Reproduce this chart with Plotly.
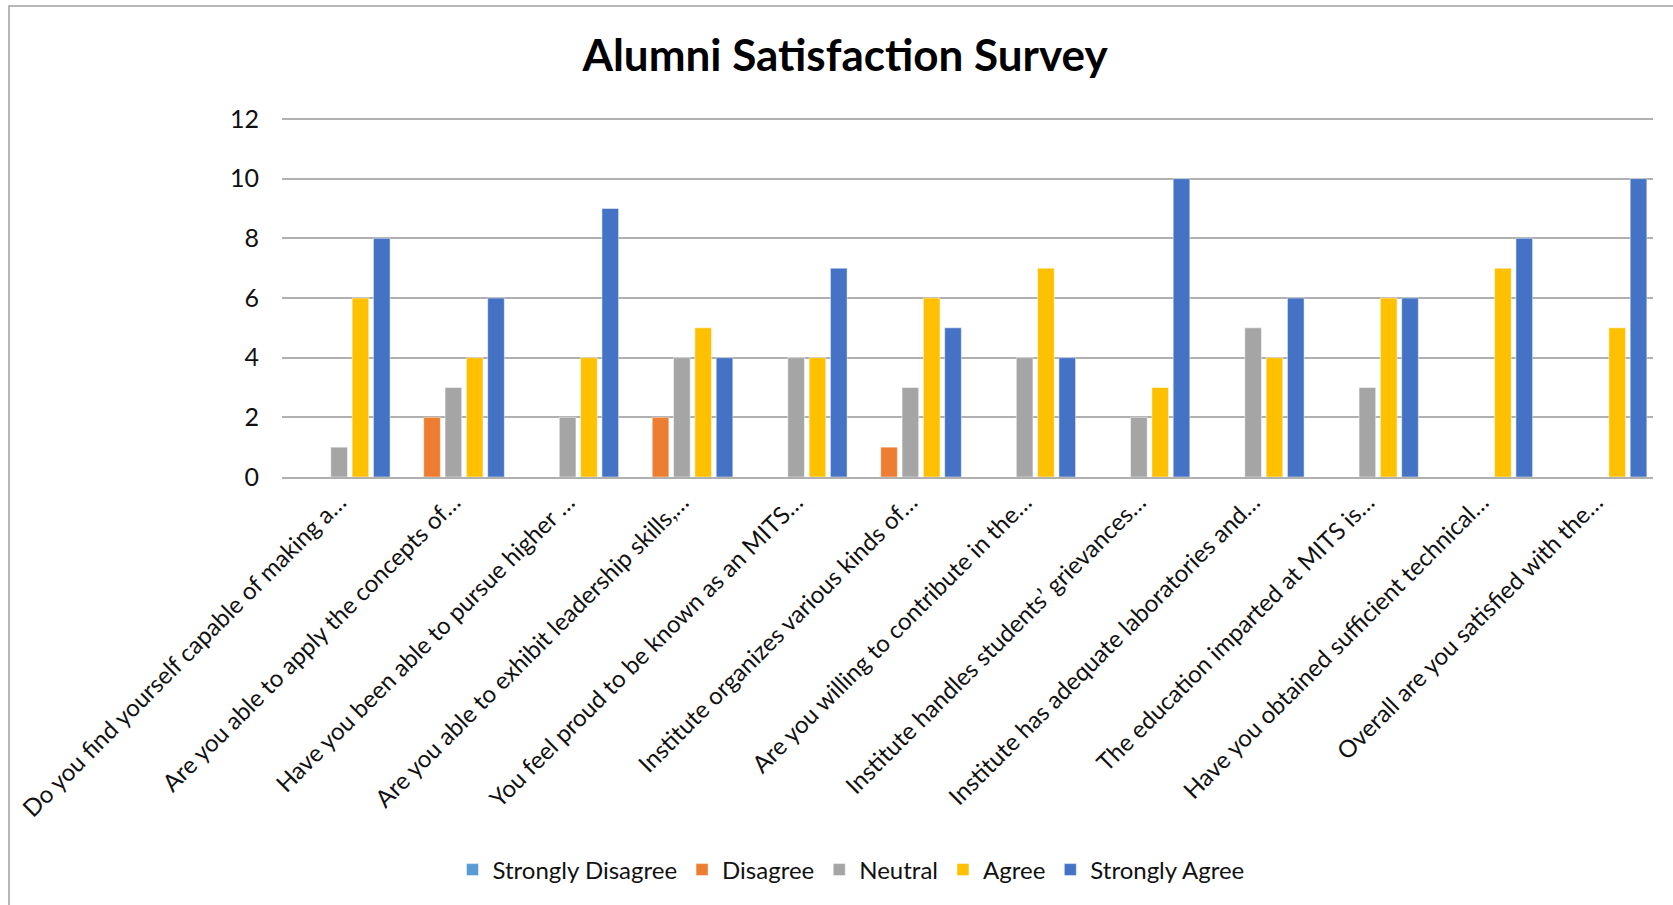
import plotly.graph_objects as go

categories = [
    "Do you find yourself capable of making a…",
    "Are you able to apply the concepts of…",
    "Have you been able to pursue higher …",
    "Are you able to exhibit leadership skills,…",
    "You feel proud to be known as an MITS…",
    "Institute organizes various kinds of…",
    "Are you willing to contribute in the…",
    "Institute handles students’ grievances…",
    "Institute has adequate laboratories and…",
    "The education imparted at MITS is…",
    "Have you obtained sufficient technical…",
    "Overall are you satisfied with the…",
]
strongly_disagree = [0, 0, 0, 0, 0, 0, 0, 0, 0, 0, 0, 0]
disagree = [0, 2, 0, 2, 0, 1, 0, 0, 0, 0, 0, 0]
neutral = [1, 3, 2, 4, 4, 3, 4, 2, 5, 3, 0, 0]
agree = [6, 4, 4, 5, 4, 6, 7, 3, 4, 6, 7, 5]
strongly_agree = [8, 6, 9, 4, 7, 5, 4, 10, 6, 6, 8, 10]

series_names = ["Strongly Disagree", "Disagree", "Neutral", "Agree", "Strongly Agree"]
series_values = [strongly_disagree, disagree, neutral, agree, strongly_agree]
series_colors = ["#5B9BD5", "#ED7D31", "#A5A5A5", "#FFC000", "#4472C4"]
y_ticks = [0, 2, 4, 6, 8, 10, 12]

FONT = "Lato"

fig = go.Figure()
for name, vals, col in zip(series_names, series_values, series_colors):
    fig.add_trace(go.Bar(
        x=categories, y=vals, name=name,
        marker=dict(color=col, line=dict(color="rgba(255,255,255,0.6)", width=0.8)),
    ))

W, H = 1673, 905
L, R, T, B = 282, W - 1653, 116, H - 477
pw, ph = W - L - R, H - T - B

def px_x(px):
    return (px - L) / pw

def px_y(py):
    return (H - B - py) / ph

fig.update_layout(
    width=W, height=H,
    margin=dict(l=L, r=R, t=T, b=B, autoexpand=False),
    paper_bgcolor="white", plot_bgcolor="white",
    barmode="group", bargap=0.067, bargroupgap=0.22,
    font=dict(family=FONT, color="#111111", size=24),
    title=dict(text="<b>Alumni Satisfaction Survey</b>",
               font=dict(family=FONT, size=44, color="#000000"),
               x=845 / W, xref="container", xanchor="center",
               y=1 - 56 / H, yref="container", yanchor="middle"),
    legend=dict(orientation="h", xref="container", yref="container",
                x=851 / W, xanchor="center", y=1 - 870 / H, yanchor="middle",
                font=dict(family=FONT, size=24, color="#111111"),
                itemwidth=30, traceorder="normal"),
    showlegend=True,
)
fig.update_xaxes(
    tickangle=-45, showgrid=False, showline=True, linecolor="#b0b0b0", linewidth=1.5,
    ticks="", tickfont=dict(family=FONT, size=24, color="#111111"),
)
fig.update_yaxes(
    range=[0, 12.1], tickvals=y_ticks, showgrid=True, gridcolor="#b0b0b0", gridwidth=1.5,
    zeroline=False, showline=False, ticks="", ticklabelstandoff=22,
    tickfont=dict(family=FONT, size=25, color="#111111"),
)
# chart-area border (decoration)
fig.add_shape(type="rect", xref="paper", yref="paper",
              x0=px_x(9), x1=px_x(1720), y0=px_y(6), y1=px_y(960),
              line=dict(color="#a0a0a0", width=1.5), fillcolor="rgba(0,0,0,0)", layer="below")

fig.write_html("out.html", config={"displayModeBar": False},
               post_script="document.body.style.margin='0';")
